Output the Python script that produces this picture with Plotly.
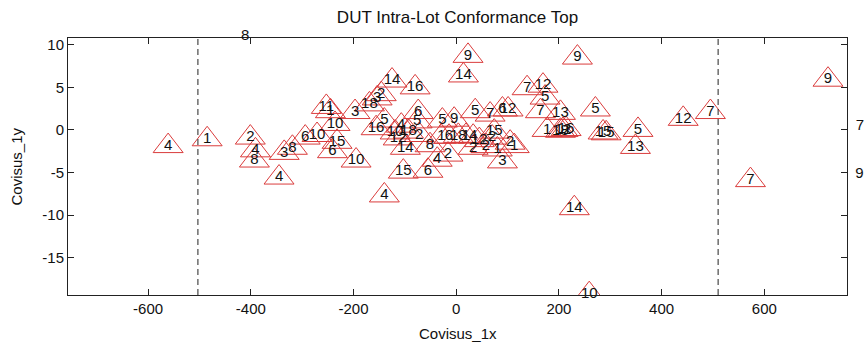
import plotly.graph_objects as go

# ---- data ----
labels = ["4", "1", "8", "2", "4", "8", "4", "3", "8", "6",
          "10", "11", "1", "10", "15", "6", "10", "3", "18", "2",
          "3", "16", "5", "14", "16", "6", "5", "4", "15", "6",
          "10", "18", "2", "14", "12", "8", "4", "2", "5", "9",
          "14", "9", "1", "6", "18", "1", "4", "12", "5", "7",
          "6", "12", "15", "2", "1", "3", "2", "1", "2", "2",
          "14", "10", "9", "7", "12", "5", "7", "13", "5", "1",
          "12", "18", "16", "15", "15", "5", "13", "12", "7", "7",
          "9", "7", "9", "4"]
x_vals = [-561, -485, -411, -401, -391, -393, -345, -335, -319, -294,
          -271, -253, -245, -236, -232, -241, -195, -197, -169, -146,
          -154, -156, -140, -125, -80, -74, -76, -140, -103, -55,
          -119, -93, -72, -99, -113, -51, -37, -16, -27, -4,
          14, 23, -29, -14, 4, 19, 33, 45, 37, 66,
          90, 101, 74, 70, 80, 90, 105, 113, 33, 58,
          230, 259, 236, 138, 169, 173, 164, 203, 271, 177,
          208, 203, 214, 286, 292, 354, 349, 442, 495, 573,
          724, 786, 785, -107]
y_vals = [-1.9, -1.1, 11.0, -0.9, -2.4, -3.6, -5.6, -2.7, -2.1, -0.9,
          -0.6, 2.7, 2.2, 0.7, -1.4, -2.5, -3.6, 2.1, 3.0, 4.2,
          3.7, 0.2, 1.1, 5.8, 5.0, 2.1, 1.0, -7.7, -4.9, -4.8,
          -0.3, -0.2, -0.6, -2.1, -1.0, -1.8, -3.5, -2.9, 1.1, 1.2,
          6.4, 8.7, -0.8, -0.8, -0.7, -0.7, -0.8, -1.2, 2.2, 1.8,
          2.4, 2.4, -0.2, -0.9, -2.3, -3.7, -1.5, -1.9, -2.1, -1.9,
          -9.2, -19.3, 8.5, 4.9, 5.2, 3.8, 2.2, 2.0, 2.4, 0.0,
          0.0, -0.1, 0.1, -0.3, -0.4, 0.0, -2.0, 1.3, 2.1, -5.9,
          5.9, 0.4, -5.2, 0.5]
limits = [-503, 510]
x_range = [-756, 761]
y_range = [-19.4, 10.8]
x_ticks = [-600, -400, -200, 0, 200, 400, 600]
y_ticks = [-15, -10, -5, 0, 5, 10]

title_text = "DUT Intra-Lot Conformance Top"
x_title = "Covisus_1x"
y_title = "Covisus_1y"

FONT = "Liberation Sans, Arial, Helvetica, sans-serif"
MARK = "rgb(218,60,60)"
INK = "#111111"

# figure / plot-area geometry (px)
W, H = 867, 344
L, R, T, B = 68, 20, 38, 49

# markers only for points inside the axes (like MATLAB clipping); labels for all
inside = [(x_range[0] <= x <= x_range[1]) and (y_range[0] <= y <= y_range[1])
          for x, y in zip(x_vals, y_vals)]
ix = [x for x, k in zip(x_vals, inside) if k]
iy = [y for y, k in zip(y_vals, inside) if k]
it = [t for t, k in zip(labels, inside) if k]
ox = [x for x, k in zip(x_vals, inside) if not k]
oy = [y for y, k in zip(y_vals, inside) if not k]
ot = [t for t, k in zip(labels, inside) if not k]

# an invisible full-figure axis pair with the same scale, so labels of points
# beyond the axes limits can still be drawn (Plotly hides out-of-range text)
ppx = (W - L - R) / (x_range[1] - x_range[0])
ppy = (H - T - B) / (y_range[1] - y_range[0])
x2_range = [x_range[0] - L / ppx, x_range[1] + R / ppx]
y2_range = [y_range[0] - B / ppy, y_range[1] + T / ppy]

fig = go.Figure()
fig.add_trace(go.Scatter(
    x=ix, y=iy, mode="markers",
    marker=dict(symbol="triangle-up-open", size=26,
                color=MARK, line=dict(width=1, color=MARK)),
    hoverinfo="skip", showlegend=False, cliponaxis=True))
fig.add_trace(go.Scatter(
    x=ix, y=iy, mode="text", text=it,
    textposition="middle center",
    textfont=dict(family=FONT, size=15, color=INK),
    hoverinfo="skip", showlegend=False, cliponaxis=False))
fig.add_trace(go.Scatter(
    x=ox, y=oy, mode="text", text=ot, xaxis="x2", yaxis="y2",
    textposition="middle center",
    textfont=dict(family=FONT, size=15, color=INK),
    hoverinfo="skip", showlegend=False, cliponaxis=False))

for lx in limits:
    fig.add_shape(type="line", x0=lx, x1=lx, xref="x", y0=0, y1=1, yref="y domain",
                  line=dict(color="#222222", width=1, dash="6px,4px"))

axis_common = dict(showline=True, linecolor="#222222", linewidth=1, mirror="ticks",
                   ticks="inside", ticklen=6, tickcolor="#222222", showgrid=False,
                   zeroline=False, automargin=False,
                   tickfont=dict(family=FONT, size=15, color=INK))

fig.update_layout(
    width=W, height=H,
    margin=dict(l=0, r=0, t=0, b=0),
    paper_bgcolor="white", plot_bgcolor="rgba(0,0,0,0)",
    title=dict(text=title_text, x=(L + (W - L - R) / 2) / W, xref="container",
               y=1 - 17 / H, yref="container",
               yanchor="middle", xanchor="center",
               font=dict(family=FONT, size=17, color=INK)),
    xaxis=dict(domain=[L / W, 1 - R / W], range=x_range, anchor="y",
               tickvals=x_ticks, ticktext=[str(v) for v in x_ticks], **axis_common),
    yaxis=dict(domain=[B / H, 1 - T / H], range=y_range, anchor="x",
               tickvals=y_ticks, ticktext=[str(v) for v in y_ticks], **axis_common),
    xaxis2=dict(domain=[0, 1], range=x2_range, anchor="y2", visible=False),
    yaxis2=dict(domain=[0, 1], range=y2_range, anchor="x2", visible=False),
)

# axis titles
fig.add_annotation(text=x_title, xref="x domain", yref="paper", x=0.5, y=1 - 333 / H,
                   xanchor="center", yanchor="middle", showarrow=False,
                   font=dict(family=FONT, size=15, color=INK))
fig.add_annotation(text=y_title, xref="paper", yref="y domain", x=16 / W, y=0.5,
                   xanchor="center", yanchor="middle", textangle=-90, showarrow=False,
                   font=dict(family=FONT, size=15, color=INK))

fig.write_html("out.html", config={"displayModeBar": False},
               post_script="document.body.style.margin='0';document.body.style.overflow='hidden';")
